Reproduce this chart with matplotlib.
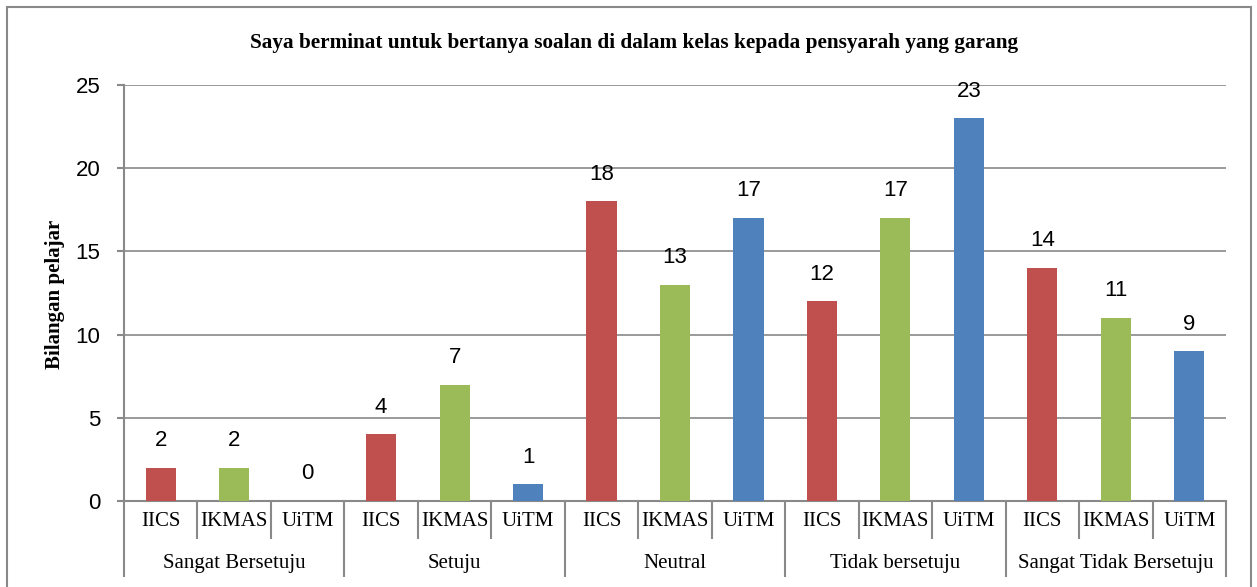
import matplotlib
matplotlib.use("Agg")
import matplotlib.pyplot as plt
from matplotlib.patches import Rectangle
import numpy as np

title = "Saya berminat untuk bertanya soalan di dalam kelas kepada pensyarah yang garang"
groups = ["Sangat Bersetuju", "Setuju", "Neutral", "Tidak bersetuju", "Sangat Tidak Bersetuju"]
institutions = ["IICS", "IKMAS", "UiTM"]
values = [
    [2, 2, 0],
    [4, 7, 1],
    [18, 13, 17],
    [12, 17, 23],
    [14, 11, 9],
]
colors = {"IICS": "#C0504D", "IKMAS": "#9BBB59", "UiTM": "#4F81BD"}
y_label = "Bilangan pelajar"
y_ticks = [0, 5, 10, 15, 20, 25]

W, H = 1257, 587
fig = plt.figure(figsize=(W / 100, H / 100), dpi=100)
ax = fig.add_axes([124 / W, 1 - 501 / H, (1226 - 124) / W, (501 - 85) / H])

serif = "Liberation Serif"
sans = "Liberation Sans"
gray = "#898989"

n_inst = len(institutions)
for g, row in enumerate(values):
    for i, v in enumerate(row):
        x = g * n_inst + i
        inst = institutions[i]
        ax.bar(x, v, width=0.41, color=colors[inst], zorder=3)
        ax.annotate(str(v), (x, v), xytext=(0, 12), textcoords="offset points",
                    ha="center", va="bottom", fontsize=16, family=sans, color="black")

total = len(groups) * n_inst
ax.set_xlim(-0.5, total - 0.5)
ax.set_ylim(0, 25)
ax.set_yticks(y_ticks)
ax.set_yticklabels([str(t) for t in y_ticks], family=sans, fontsize=16)
ax.yaxis.grid(True, color=gray, linewidth=1.2, zorder=0)
ax.set_axisbelow(True)

for s in ["top", "right"]:
    ax.spines[s].set_visible(False)
for s in ["left", "bottom"]:
    ax.spines[s].set_color(gray)
    ax.spines[s].set_linewidth(1.5)
ax.tick_params(axis="y", direction="out", length=5, width=1.5, color=gray, pad=12)

# x-axis separators via ticks
minor_pos = [k - 0.5 for k in range(total + 1)]
major_pos = [g * n_inst - 0.5 for g in range(len(groups) + 1)]
ax.set_xticks(major_pos)
ax.set_xticklabels([""] * len(major_pos))
ax.set_xticks([p for p in minor_pos if p not in major_pos], minor=True)
ax.tick_params(axis="x", which="major", direction="out", length=55, width=1.5, color=gray)
ax.tick_params(axis="x", which="minor", direction="out", length=27, width=1.5, color=gray)

trans = ax.get_xaxis_transform()
for g, grp in enumerate(groups):
    for i, inst in enumerate(institutions):
        x = g * n_inst + i
        ax.text(x, -0.05, inst, transform=trans, ha="center", va="center",
                family=serif, fontsize=15)
    ax.text(g * n_inst + (n_inst - 1) / 2, -0.151, grp, transform=trans,
            ha="center", va="center", family=serif, fontsize=15)

fig.text(634 / W, 1 - 43 / H, title, ha="center", va="center",
         family=serif, fontweight="bold", fontsize=15.3)
fig.text(55 / W, 1 - 294 / H, y_label, rotation=90, ha="center", va="center",
         family=serif, fontweight="bold", fontsize=15)

fig.patches.append(Rectangle((7 / W, -0.1), (1251 - 7) / W, 1.1 - 7 / H,
                             transform=fig.transFigure, fill=False,
                             edgecolor=gray, linewidth=1.5))

fig.savefig("out.png", dpi=100)
